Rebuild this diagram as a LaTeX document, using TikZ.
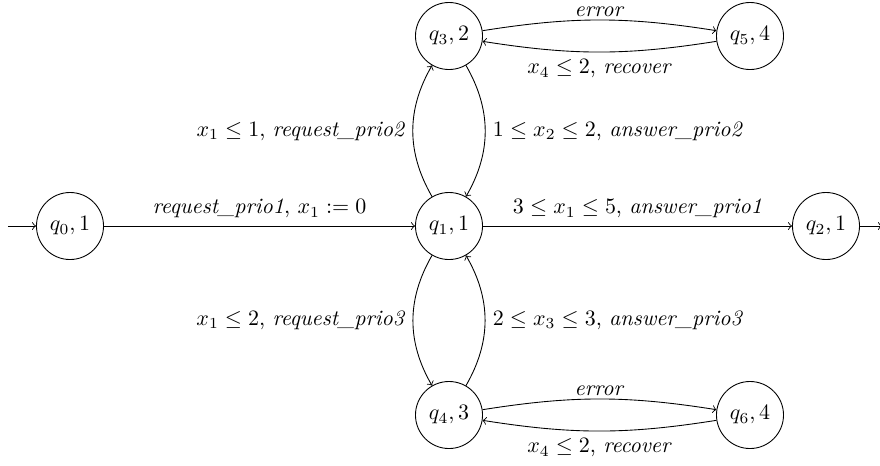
\documentclass[tikz,border=0pt]{standalone}
\begin{document}
\begin{tikzpicture}[x=0.455pt,y=-0.455pt,
  state/.style={circle,draw,minimum size=30.5pt,inner sep=0pt},
  edge/.style={->},
  toplbl/.style={above,inner sep=1.5pt}]
\useasboundingbox (0,0) rectangle (880,465);
\node[state] (q0) at (70,226) {$q_0,1$};
\node[state] (q1) at (449,226) {$q_1,1$};
\node[state] (q2) at (826,226) {$q_2,1$};
\node[state] (q3) at (449,36) {$q_3,2$};
\node[state] (q5) at (750,36) {$q_5,4$};
\node[state] (q4) at (449,415) {$q_4,3$};
\node[state] (q6) at (750,415) {$q_6,4$};
\coordinate (init) at (8,226);
\coordinate (fin) at (882,226);
\draw[edge] (init) -- (q0);
\draw[edge] (q0) -- node[above] {\textit{request\_prio1}, $x_1:=0$} (q1);
\draw[edge] (q1) -- node[above] {$3\leq x_1\leq 5$, \textit{answer\_prio1}} (q2);
\draw[edge] (q2) -- (fin);
\draw[edge] (q1) to[bend left=30] node[left] {$x_1\leq 1$, \textit{request\_prio2}} (q3);
\draw[edge] (q3) to[bend left=30] node[right] {$1\leq x_2\leq 2$, \textit{answer\_prio2}} (q1);
\draw[edge] (q1) to[bend right=30] node[left] {$x_1\leq 2$, \textit{request\_prio3}} (q4);
\draw[edge] (q4) to[bend right=30] node[right] {$2\leq x_3\leq 3$, \textit{answer\_prio3}} (q1);
\draw[edge] (q3) to[bend left=9] node[toplbl] {\textit{error}} (q5);
\draw[edge] (q5) to[bend left=9] node[below] {$x_4\leq 2$, \textit{recover}} (q3);
\draw[edge] (q4) to[bend left=9] node[toplbl] {\textit{error}} (q6);
\draw[edge] (q6) to[bend left=9] node[below] {$x_4\leq 2$, \textit{recover}} (q4);
\end{tikzpicture}
\end{document}
